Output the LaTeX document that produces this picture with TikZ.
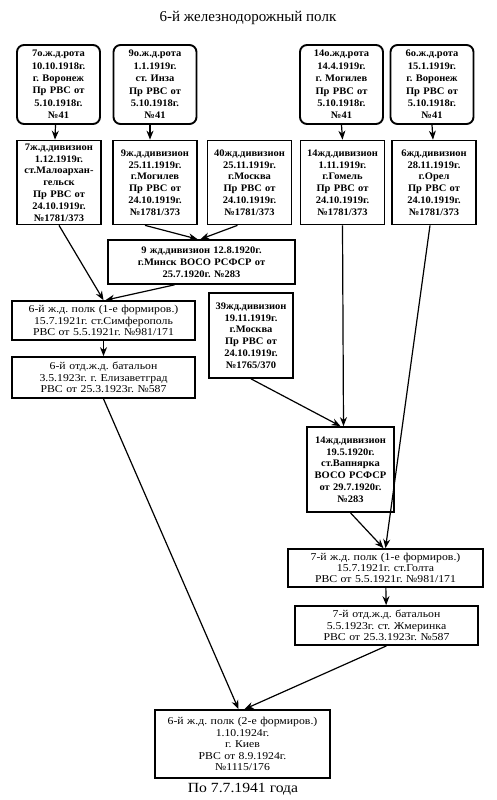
\documentclass[tikz,border=0pt]{standalone}
\usepackage{fontspec}
\setmainfont{Liberation Serif}
\newfontfamily\boxfont[FakeStretch=1.12]{Liberation Serif}
\newfontfamily\unitfont[FakeStretch=1.05]{Liberation Serif}
\usetikzlibrary{arrows.meta}
\frenchspacing

\begin{document}
\begin{tikzpicture}[
    x=1pt, y=-1pt,
    every node/.style={font=\unitfont\fontsize{10}{11.8}\selectfont\bfseries, align=center},
    rota box/.style={draw, line width=1.9pt, rounded corners=7pt, inner sep=2pt,
        text width=79pt, minimum height=79pt,
        font=\unitfont\fontsize{10}{12.4}\selectfont\bfseries},
    division box/.style={draw, line width=1.7pt, inner sep=2pt,
        text width=#1, minimum height=84pt},
    division box/.default=80pt,
    wide box/.style={draw, line width=1.7pt, inner sep=2pt, text width=#1,
        font=\boxfont\fontsize{10.5}{11.4}\selectfont},
    link/.style={-{Stealth[length=9pt,width=7pt]}, line width=1.2pt}
]
    \useasboundingbox (0,0) rectangle (496,800);

    % Title
    \node[font=\fontsize{15}{17}\selectfont] (title) at (248,18) {6-й железнодорожный полк};

    % Companies
    \node[rota box] (r7)  at (58.5,84.5)  {7о.ж.д.рота\\10.10.1918г.\\г. Воронеж\\Пр РВС от\\5.10.1918г.\\№41};
    \node[rota box] (r9)  at (155,84.5)   {9о.ж.д.рота\\1.1.1919г.\\ст. Инза\\Пр РВС от\\5.10.1918г.\\№41};
    \node[rota box] (r14) at (341.5,84.5) {14о.жд.рота\\14.4.1919г.\\г. Могилев\\Пр РВС от\\5.10.1918г.\\№41};
    \node[rota box] (r6)  at (432,84.5)   {6о.ж.д.рота\\15.1.1919г.\\г. Воронеж\\Пр РВС от\\5.10.1918г.\\№41};

    % Divisions
    \node[division box] (d7)  at (59,182.5)    {7ж.д.дивизион\\1.12.1919г.\\ст.Малоархан-\\гельск\\Пр РВС от\\24.10.1919г.\\№1781/373};
    \node[division box] (d9)  at (155,182.5)   {9ж.д.дивизион\\25.11.1919г.\\г.Могилев\\Пр РВС от\\24.10.1919г.\\№1781/373};
    \node[division box] (d40) at (249.5,182.5) {40жд.дивизион\\25.11.1919г.\\г.Москва\\Пр РВС от\\24.10.1919г.\\№1781/373};
    \node[division box] (d14) at (342.5,182.5) {14жд.дивизион\\1.11.1919г.\\г.Гомель\\Пр РВС от\\24.10.1919г.\\№1781/373};
    \node[division box] (d6)  at (434,182.5)   {6жд.дивизион\\28.11.1919г.\\г.Орел\\Пр РВС от\\24.10.1919г.\\№1781/373};

    \node[division box=183pt, minimum height=44pt] (d9m) at (201.5,262)
        {9 жд.дивизион 12.8.1920г.\\г.Минск ВОСО РСФСР от\\25.7.1920г. №283};
    \node[division box=80pt, minimum height=85pt] (d39) at (251,335.5)
        {39жд.дивизион\\19.11.1919г.\\г.Москва\\Пр РВС от\\24.10.1919г.\\№1765/370};
    \node[division box=83pt, minimum height=85pt] (d14v) at (350.5,469.5)
        {14жд.дивизион\\19.5.1920г.\\ст.Вапнярка\\ВОСО РСФСР\\от 29.7.1920г.\\№283};

    % Regiments and battalions
    \node[wide box=179pt, minimum height=39pt] (p6a) at (103.5,320.5)
        {6-й ж.д. полк (1-е формиров.)\\15.7.1921г. ст.Симферополь\\РВС от 5.5.1921г. №981/171};
    \node[wide box=179pt, minimum height=41pt] (b6) at (103.5,377.5)
        {6-й отд.ж.д. батальон\\3.5.1923г. г. Елизаветград\\РВС от 25.3.1923г. №587};
    \node[wide box=191pt, minimum height=38pt] (p7) at (385.5,568)
        {7-й ж.д. полк (1-е формиров.)\\15.7.1921г. ст.Голта\\РВС от 5.5.1921г. №981/171};
    \node[wide box=179pt, minimum height=39pt] (b7) at (386.5,625.5)
        {7-й отд.ж.д. батальон\\5.5.1923г. ст. Жмеринка\\РВС от 25.3.1923г. №587};
    \node[wide box=171pt, minimum height=68pt] (p6b) at (242.5,744)
        {6-й ж.д. полк (2-е формиров.)\\1.10.1924г.\\г. Киев\\РВС от 8.9.1924г.\\№1115/176};

    % Footer
    \node[font=\boxfont\fontsize{14}{16}\selectfont] (date) at (243,789) {По 7.7.1941 года};

    % Links
    \draw[link] ([xshift=-3pt]r7.south) -- ([xshift=-4pt]d7.north);
    \draw[link] ([xshift=-5pt]r9.south) -- ([xshift=-5pt]d9.north);
    \draw[link] (r14.south) -- (d14.north);
    \draw[link] (r6.south) -- ([xshift=-1pt]d6.north);

    \draw[link] (d7.south) -- (p6a.north);
    \draw[link] ([xshift=-10pt]d9.south) -- ([xshift=-4pt]d9m.north);
    \draw[link] ([xshift=-12pt]d40.south) -- ([xshift=-1pt]d9m.north);
    \draw[link] ([xshift=-27pt]d9m.south) -- ([xshift=2pt]p6a.north);
    \draw[link] (p6a) -- (b6);

    \draw[link] ([xshift=0pt]d14.south) -- ([xshift=-7pt]d14v.north);
    \draw[link] (d39.south) -- ([xshift=-10pt]d14v.north);
    \draw[link] ([xshift=-4pt]d6.south) -- (p7.north);
    \draw[link] (d14v.south) -- ([xshift=-2pt]p7.north);
    \draw[link] (p7) -- (b7);

    \draw[link] (b6.south) -- ([xshift=-4pt]p6b.north);
    \draw[link] (b7.south) -- ([xshift=2pt]p6b.north);
\end{tikzpicture}
\end{document}
